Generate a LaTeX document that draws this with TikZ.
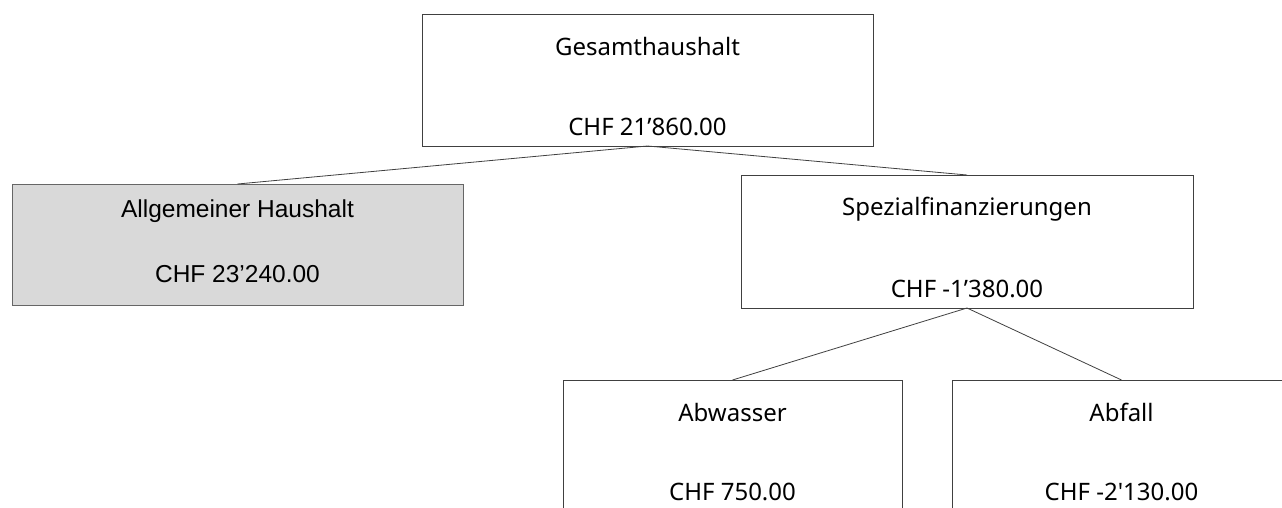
\documentclass[tikz,border=0pt]{standalone}
\usepackage{fontspec}
\setmainfont{Noto Sans}
\newfontfamily\arialfont{Liberation Sans}
\definecolor{boxline}{HTML}{404040}
\definecolor{boxfill}{HTML}{D9D9D9}
\definecolor{linkline}{HTML}{404040}
\begin{document}
\begin{tikzpicture}[x=1pt,y=-1pt,
  box/.style={draw=boxline, line width=1pt, inner sep=0pt, outer sep=0pt},
  shaded/.style={box, fill=boxfill, draw=boxline!80},
  label/.style={anchor=base, inner sep=0pt, font=\fontsize{24}{28}\selectfont},
  arial/.style={anchor=base, inner sep=0pt, font=\arialfont\fontsize{24.5}{28}\selectfont},
  link/.style={draw=linkline, line width=0.8pt}]
\useasboundingbox (0,0) rectangle (1282,507);
\fill[white] (0,0) rectangle (1282,507);
\clip (0,0) rectangle (1282,507);

% root
\node[box, minimum width=451pt, minimum height=132pt] (ges) at (647.5,80) {};
\node[label] (ges-t) at (647.5,55) {Gesamthaushalt};
\node[label] (ges-v) at (647.5,135) {CHF 21’860.00};

% general budget
\node[shaded, minimum width=451pt, minimum height=121pt] (allg) at (237.5,244.5) {};
\node[arial] (allg-t) at (237.5,217) {Allgemeiner Haushalt};
\node[arial] (allg-v) at (237.5,282) {CHF 23’240.00};

% special financing
\node[box, minimum width=452pt, minimum height=133pt] (spez) at (967,241.5) {};
\node[label] (spez-t) at (967,215) {Spezialfinanzierungen};
\node[label] (spez-v) at (967,297) {CHF -1’380.00};

% sub accounts
\node[box, minimum width=339pt, minimum height=132pt] (abw) at (732.5,446) {};
\node[label] (abw-t) at (732.5,421) {Abwasser};
\node[label] (abw-v) at (732.5,500) {CHF 750.00};

\node[box, minimum width=339pt, minimum height=132pt] (abf) at (1121.5,446) {};
\node[label] (abf-t) at (1121.5,421) {Abfall};
\node[label] (abf-v) at (1121.5,500) {CHF -2\textquotesingle130.00};

% connectors
\draw[link] (ges.south) -- (allg.north);
\draw[link] (ges.south) -- (spez.north);
\draw[link] (spez.south) -- (abw.north);
\draw[link] (spez.south) -- (abf.north);
\end{tikzpicture}
\end{document}
